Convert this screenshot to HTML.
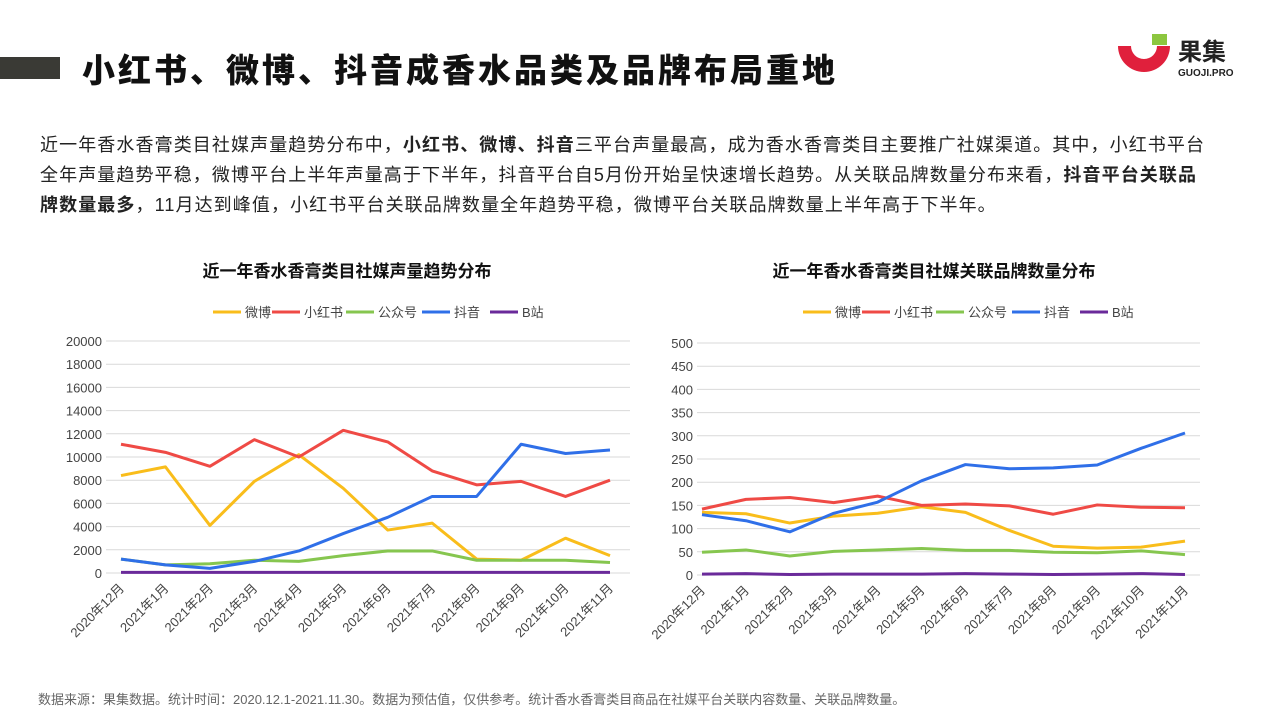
<!DOCTYPE html>
<html><head><meta charset="utf-8">
<style>
body{margin:0;width:1280px;height:720px;background:#fff;overflow:hidden;position:relative;font-family:"Liberation Sans","Noto Sans CJK SC",sans-serif;}
.bar{position:absolute;left:0;top:57px;width:60px;height:22px;background:#3a3a35;}
h1{position:absolute;left:82px;top:44px;margin:0;font-size:33px;font-weight:900;color:#111;letter-spacing:3px;white-space:nowrap;}
.para{position:absolute;left:40px;top:130px;width:1200px;font-size:18px;letter-spacing:1.1px;line-height:30px;color:#222;white-space:nowrap;}
.foot{position:absolute;left:38px;top:689px;font-size:13px;color:#666;}
svg{position:absolute;left:0;top:0;}
</style></head><body>
<div class="bar"></div>
<h1>小红书、微博、抖音成香水品类及品牌布局重地</h1>
<div style="position:absolute;left:1116px;top:34px;">
<svg width="140" height="50" style="position:relative"><path d="M2 12 A26 26 0 0 0 54 12 L41 12 A13 13 0 0 1 15 12 Z" fill="#e0203c"/><rect x="36" y="0" width="15" height="11" fill="#8cc63f"/>
<text x="62" y="26" font-size="24" font-weight="bold" fill="#222" font-family="Liberation Sans, Noto Sans CJK SC, sans-serif">果集</text>
<text x="62" y="42" font-size="10" font-weight="bold" fill="#222" font-family="Liberation Sans, sans-serif">GUOJI.PRO</text></svg></div>
<div class="para">近一年香水香膏类目社媒声量趋势分布中，<b>小红书、微博、抖音</b>三平台声量最高，成为香水香膏类目主要推广社媒渠道。其中，小红书平台<br>全年声量趋势平稳，微博平台上半年声量高于下半年，抖音平台自5月份开始呈快速增长趋势。从关联品牌数量分布来看，<b>抖音平台关联品<br>牌数量最多</b>，11月达到峰值，小红书平台关联品牌数量全年趋势平稳，微博平台关联品牌数量上半年高于下半年。</div>
<div class="foot">数据来源：果集数据。统计时间：2020.12.1-2021.11.30。数据为预估值，仅供参考。统计香水香膏类目商品在社媒平台关联内容数量、关联品牌数量。</div>
<svg id="c" width="1280" height="720"></svg>
<script>
const categories=["2020年12月","2021年1月","2021年2月","2021年3月","2021年4月","2021年5月","2021年6月","2021年7月","2021年8月","2021年9月","2021年10月","2021年11月"];
const seriesNames=["微博","小红书","公众号","抖音","B站"];
const seriesColors=["#f9bd1b","#ef4a45","#86c64f","#2f6fe8","#6a2a9a"];
const leftWeibo=[8400,9150,4100,7900,10200,7300,3700,4300,1200,1100,3000,1500];
const leftXhs=[11100,10400,9200,11500,10000,12300,11300,8800,7600,7900,6600,8000];
const leftGzh=[1200,700,800,1100,1000,1500,1900,1900,1100,1100,1100,900];
const leftDy=[1200,700,400,1000,1900,3400,4800,6600,6600,11100,10300,10600];
const leftBz=[50,50,50,50,50,50,50,50,50,50,50,50];
const leftTicks=[0,2000,4000,6000,8000,10000,12000,14000,16000,18000,20000];
const rightWeibo=[135,132,112,127,133,147,135,96,62,58,60,73];
const rightXhs=[142,163,167,156,170,150,153,149,131,151,146,145];
const rightGzh=[49,54,41,51,54,57,53,53,49,48,52,44];
const rightDy=[130,117,93,133,157,203,238,229,231,237,273,306];
const rightBz=[2,3,1,2,2,2,3,2,1,2,3,1];
const rightTicks=[0,50,100,150,200,250,300,350,400,450,500];
const svg=document.getElementById('c');const NS="http://www.w3.org/2000/svg";
function mk(t,a,txt){const e=document.createElementNS(NS,t);for(const k in a)e.setAttribute(k,a[k]);if(txt!==undefined)e.textContent=txt;svg.appendChild(e);return e;}
function chart(cfg,series,ticks,prefix){
 const max=ticks[ticks.length-1];
 const y=v=>cfg.y0-(v/max)*(cfg.y0-cfg.y1);
 const x=i=>cfg.xs+i*(cfg.xe-cfg.xs)/(categories.length-1);
 let t=mk('text',{x:cfg.cx,y:277,'text-anchor':'middle','font-size':17,'font-weight':'bold',fill:'#111'},cfg.title);
 
 
 ticks.forEach(v=>{
  const g=mk('line',{x1:cfg.gx1,x2:cfg.gx2,y1:y(v),y2:y(v),stroke:'#d9d9d9','stroke-width':1});
  
  
  const l=mk('text',{x:cfg.gx1-4,y:y(v)+5,'text-anchor':'end','font-size':13,fill:'#444'},v);
  
  
 });
 categories.forEach((c,i)=>{
  const l=mk('text',{x:x(i)+4,y:cfg.y0+16,'text-anchor':'end','font-size':13,fill:'#444',transform:`rotate(-45 ${x(i)+4} ${cfg.y0+16})`},c);
  
  
 });
 const lx=[cfg.lx,cfg.lx+59,cfg.lx+133,cfg.lx+209,cfg.lx+277];
 series.forEach((s,k)=>{
  const ln=mk('line',{x1:lx[k],x2:lx[k]+28,y1:312,y2:312,stroke:seriesColors[k],'stroke-width':3});
  
  
  const lt=mk('text',{x:lx[k]+32,y:317,'font-size':13,fill:'#444'},seriesNames[k]);
  
  
 });
 series.forEach((s,k)=>{
  const p=mk('polyline',{points:s.map((v,i)=>x(i)+','+y(v)).join(' '),fill:'none',stroke:seriesColors[k],'stroke-width':3,'stroke-linejoin':'round'});
  
  
 });
}
chart({title:"近一年香水香膏类目社媒声量趋势分布",cx:347,y0:573,y1:341,xs:121,xe:610,gx1:106,gx2:630,lx:213},[leftWeibo,leftXhs,leftGzh,leftDy,leftBz],leftTicks,'left');
chart({title:"近一年香水香膏类目社媒关联品牌数量分布",cx:934,y0:575,y1:343,xs:702,xe:1185,gx1:697,gx2:1200,lx:803},[rightWeibo,rightXhs,rightGzh,rightDy,rightBz],rightTicks,'right');
</script>
</body></html>
